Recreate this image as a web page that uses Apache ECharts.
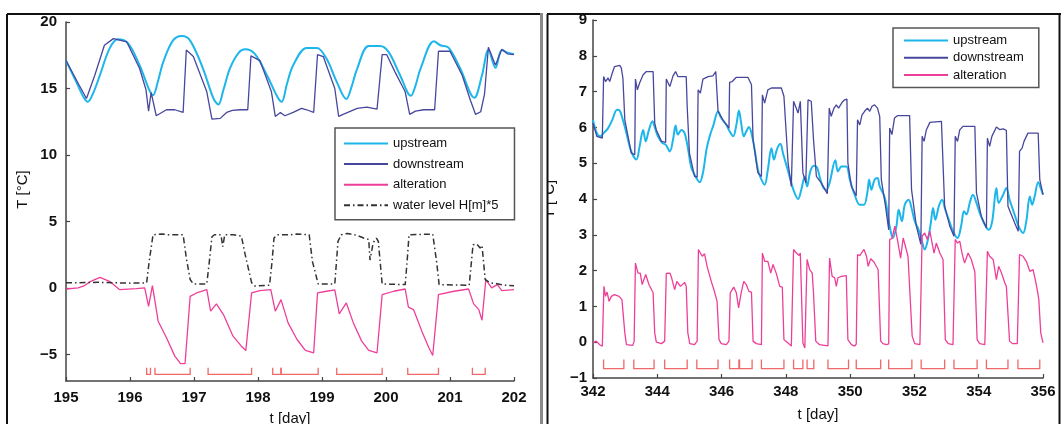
<!DOCTYPE html>
<html>
<head>
<meta charset="utf-8">
<script src="https://cdn.jsdelivr.net/npm/echarts@6/dist/echarts.min.js"></script>
<style>
  html, body { margin: 0; padding: 0; background: #fff; }
  #chart { width: 1061px; height: 424px; }
</style>
</head>
<body>
<div id="chart"></div>
<script>
// ---------- tick labels ----------
const leftXTicks  = [195, 196, 197, 198, 199, 200, 201, 202];
const leftYTicks  = [-5, 0, 5, 10, 15, 20];
const rightXTicks = [342, 344, 346, 348, 350, 352, 354, 356];
const rightYTicks = [-1, 0, 1, 2, 3, 4, 5, 6, 7, 8, 9];

// ---------- left panel, days 195-202: [t (day), T (°C)] ----------
const leftUpstream = [
  [195.00,17.1],[195.16,15.5],[195.28,14.3],[195.34,14.0],[195.42,14.6],[195.53,16.0],
  [195.68,18.0],[195.81,18.7],[195.97,18.4],[196.15,16.75],[196.30,14.9],[196.36,14.5],
  [196.44,15.6],[196.52,17.0],[196.67,18.6],[196.81,18.95],[196.94,18.6],[197.14,16.5],
  [197.30,14.3],[197.38,13.8],[197.46,14.9],[197.56,16.5],[197.70,17.7],[197.80,17.95],
  [197.95,17.6],[198.14,16.0],[198.30,14.4],[198.37,14.0],[198.45,15.3],[198.55,16.75],
  [198.76,18.05],[198.92,18.05],[199.07,17.25],[199.23,15.5],[199.38,14.2],[199.46,15.1],
  [199.55,16.5],[199.73,18.2],[199.91,18.2],[200.04,17.75],[200.22,16.0],[200.39,14.45],
  [200.46,15.2],[200.54,16.5],[200.75,18.55],[200.85,18.25],[200.98,18.05],[201.16,16.5],
  [201.38,14.3],[201.50,16.0],[201.60,17.9],[201.71,16.55],[201.81,17.9],[201.90,17.7],
  [202.00,17.6]
];
const leftDownstream = [
  [195.00,17.1],[195.20,15.3],[195.32,14.25],[195.45,16.0],[195.60,18.25],[195.74,18.75],
  [195.95,18.5],[196.15,16.5],[196.25,14.9],[196.29,13.3],[196.33,14.7],[196.41,12.95],
  [196.57,13.4],[196.70,13.4],[196.83,13.2],[196.88,17.9],[196.99,17.4],[197.20,14.75],
  [197.28,12.7],[197.41,12.75],[197.51,13.2],[197.60,13.35],[197.72,13.4],[197.84,13.4],
  [197.89,17.45],[198.03,17.1],[198.21,14.75],[198.27,12.9],[198.35,13.2],[198.42,12.95],
  [198.55,13.2],[198.68,13.5],[198.76,13.4],[198.87,13.2],[198.93,17.55],[199.02,17.4],
  [199.20,15.0],[199.26,12.9],[199.33,13.05],[199.55,13.5],[199.70,13.6],[199.86,13.45],
  [199.94,17.55],[200.01,17.55],[200.14,16.25],[200.30,14.75],[200.37,13.05],[200.46,13.3],
  [200.59,13.4],[200.76,13.4],[200.82,17.8],[201.00,17.8],[201.19,16.0],[201.32,14.1],
  [201.40,13.05],[201.48,13.25],[201.54,14.6],[201.60,18.1],[201.71,16.75],[201.81,17.95],
  [201.90,17.6],[202.00,17.55]
];
const leftAlteration = [
  [195.00,-0.08],[195.19,0.0],[195.28,0.15],[195.37,0.45],[195.53,0.8],[195.68,0.5],
  [195.84,-0.13],[196.10,-0.05],[196.23,0.0],[196.29,-1.38],[196.35,0.17],[196.39,-1.0],
  [196.44,-2.5],[196.57,-3.75],[196.70,-5.13],[196.79,-5.7],[196.86,-5.7],[196.94,-0.63],
  [197.04,-0.38],[197.20,-0.13],[197.26,-1.75],[197.35,-1.2],[197.46,-2.0],[197.61,-3.63],
  [197.74,-4.38],[197.81,-4.7],[197.90,-0.38],[198.03,-0.2],[198.20,-0.13],[198.27,-1.75],
  [198.36,-0.88],[198.47,-2.63],[198.61,-3.88],[198.74,-4.7],[198.87,-4.88],[198.93,-0.38],
  [199.07,-0.25],[199.20,-0.15],[199.27,-1.95],[199.38,-1.13],[199.49,-2.63],[199.62,-4.0],
  [199.73,-4.7],[199.86,-4.88],[199.94,-0.5],[200.12,-0.25],[200.30,-0.08],[200.35,-1.45],
  [200.43,-1.63],[200.56,-3.25],[200.67,-4.5],[200.73,-5.08],[200.82,-0.5],[201.06,-0.25],
  [201.29,-0.08],[201.37,-1.2],[201.45,-1.63],[201.50,-2.43],[201.56,0.63],[201.65,0.0],
  [201.74,0.25],[201.81,-0.2],[202.00,-0.13]
];
const leftWaterLevel = [
  [195.00,0.38],[195.50,0.42],[196.00,0.36],[196.26,0.38],[196.30,2.0],[196.36,4.0],
  [196.50,4.05],[196.60,4.0],[196.83,4.0],[196.88,2.25],[196.94,0.63],[196.99,0.3],
  [197.20,0.3],[197.24,2.0],[197.28,3.85],[197.32,4.0],[197.42,4.0],[197.45,3.1],
  [197.48,4.0],[197.62,4.0],[197.74,3.9],[197.80,2.5],[197.90,0.4],[197.95,0.15],
  [198.18,0.2],[198.22,2.0],[198.25,3.75],[198.30,4.0],[198.50,4.0],[198.60,4.05],
  [198.80,4.0],[198.85,2.0],[198.94,0.3],[199.20,0.3],[199.25,3.5],[199.30,4.0],
  [199.40,4.1],[199.55,3.95],[199.65,3.75],[199.73,3.65],[199.75,2.1],[199.80,3.4],
  [199.85,3.75],[199.88,3.5],[199.94,0.3],[200.30,0.25],[200.33,2.0],[200.36,4.0],
  [200.73,4.05],[200.79,2.0],[200.83,0.25],[201.30,0.2],[201.36,3.25],[201.42,3.3],
  [201.47,3.0],[201.50,3.2],[201.55,0.63],[201.62,0.4],[201.75,0.3],[201.85,0.2],
  [202.00,0.17]
];
// periods marked under the curves: [start, end]
const leftPeriods = [
  [196.26,196.32],[196.39,196.94],[197.22,197.90],[198.23,198.36],[198.36,198.94],
  [199.23,199.94],[200.34,200.82],[201.35,201.55]
];

// ---------- right panel, days 342-356 ----------
const rightUpstream = [
  [342.00,6.21],[342.12,5.84],[342.23,5.75],[342.33,5.84],[342.47,5.98],[342.60,6.21],
  [342.75,6.49],[342.83,6.47],[342.93,6.21],[343.04,5.84],[343.19,5.33],[343.35,5.1],
  [343.45,5.47],[343.56,5.93],[343.64,5.61],[343.74,5.93],[343.85,6.17],[343.92,6.01],
  [344.02,5.75],[344.16,5.56],[344.26,5.52],[344.39,5.33],[344.49,5.66],[344.57,6.05],
  [344.64,5.8],[344.75,5.93],[344.85,5.84],[344.96,5.38],[345.06,4.87],[345.19,4.63],
  [345.32,4.47],[345.42,4.73],[345.53,5.38],[345.63,5.75],[345.75,6.07],[345.89,6.45],
  [345.99,6.26],[346.15,6.07],[346.25,5.89],[346.36,5.75],[346.46,6.07],[346.54,6.47],
  [346.61,6.12],[346.69,5.75],[346.77,5.89],[346.85,6.01],[346.93,5.84],[347.03,5.38],
  [347.13,4.82],[347.24,4.54],[347.34,4.4],[347.44,4.82],[347.55,5.42],[347.63,5.1],
  [347.72,5.38],[347.83,5.54],[347.91,5.28],[348.04,4.87],[348.17,4.45],[348.27,4.17],
  [348.38,4.0],[348.48,4.26],[348.59,4.63],[348.66,4.35],[348.76,4.77],[348.87,4.93],
  [348.97,4.88],[349.05,4.62],[349.15,4.35],[349.26,4.25],[349.36,4.45],[349.54,5.08],
  [349.62,4.77],[349.73,4.91],[349.88,4.91],[349.99,4.54],[350.14,4.12],[350.30,3.84],
  [350.43,3.84],[350.54,4.21],[350.59,4.54],[350.66,4.26],[350.76,4.54],[350.85,4.59],
  [350.92,4.35],[351.08,4.03],[351.23,3.24],[351.33,2.91],[351.44,3.24],[351.51,3.7],
  [351.61,3.38],[351.70,3.84],[351.82,3.98],[351.91,3.75],[352.01,3.38],[352.13,3.14],
  [352.22,2.87],[352.32,2.59],[352.42,2.87],[352.51,3.33],[352.58,3.75],[352.65,3.42],
  [352.76,3.8],[352.86,3.98],[352.96,3.7],[353.07,3.42],[353.20,3.1],[353.34,2.91],
  [353.46,3.28],[353.54,3.66],[353.62,3.57],[353.72,3.89],[353.82,4.12],[353.93,3.89],
  [354.03,3.61],[354.19,3.28],[354.31,3.14],[354.42,3.38],[354.55,4.31],[354.62,3.89],
  [354.76,4.12],[354.86,4.31],[354.96,3.98],[355.10,3.61],[355.24,3.24],[355.38,3.05],
  [355.48,3.38],[355.59,4.07],[355.66,3.84],[355.74,4.07],[355.85,4.47],[355.93,4.3],
  [356.00,4.12]
];
const rightDownstream = [
  [342.00,6.12],[342.12,5.75],[342.29,5.7],[342.33,7.42],[342.39,7.28],[342.47,7.38],
  [342.52,7.28],[342.60,7.52],[342.67,7.7],[342.83,7.73],[342.88,7.66],[342.93,7.38],
  [342.99,6.21],[343.09,5.75],[343.19,5.28],[343.30,5.24],[343.32,7.35],[343.38,7.05],
  [343.45,7.24],[343.56,7.47],[343.66,7.56],[343.87,7.56],[343.92,6.12],[343.97,5.93],
  [344.13,5.61],[344.26,5.58],[344.28,7.35],[344.39,7.14],[344.49,7.44],[344.57,7.56],
  [344.64,7.42],[344.90,7.42],[344.93,6.59],[345.00,5.28],[345.16,4.63],[345.24,4.61],
  [345.27,7.05],[345.34,6.96],[345.42,7.35],[345.58,7.42],[345.73,7.44],[345.82,7.56],
  [345.89,6.45],[346.04,6.21],[346.23,5.98],[346.25,7.26],[346.33,7.28],[346.46,7.4],
  [346.82,7.4],[346.93,7.19],[346.98,5.66],[347.13,4.73],[347.24,4.63],[347.27,6.91],
  [347.34,6.68],[347.44,7.05],[347.55,7.1],[347.86,7.1],[347.94,6.87],[348.07,5.0],
  [348.17,4.35],[348.24,6.73],[348.30,6.68],[348.38,6.4],[348.45,6.73],[348.53,4.73],
  [348.62,4.45],[348.69,6.77],[348.79,6.73],[348.86,5.66],[348.95,4.63],[349.10,4.45],
  [349.29,4.15],[349.35,6.54],[349.41,6.31],[349.50,6.54],[349.57,6.63],[349.64,6.54],
  [349.75,6.7],[349.83,6.77],[349.90,6.79],[349.93,5.0],[350.04,4.35],[350.19,4.09],
  [350.23,6.21],[350.30,6.07],[350.37,6.35],[350.45,6.45],[350.54,6.54],[350.61,6.45],
  [350.68,6.59],[350.76,6.63],[350.85,6.54],[350.92,6.31],[350.97,4.54],[351.10,3.8],
  [351.20,3.14],[351.23,5.98],[351.30,5.8],[351.38,6.26],[351.48,6.33],[351.85,6.33],
  [351.91,4.26],[352.06,3.24],[352.20,2.73],[352.24,5.75],[352.30,5.61],[352.37,5.93],
  [352.48,6.14],[352.84,6.17],[352.94,3.8],[353.10,3.24],[353.23,2.96],[353.27,5.75],
  [353.34,5.61],[353.41,5.93],[353.51,6.03],[353.88,6.03],[353.93,4.17],[354.08,3.52],
  [354.24,3.19],[354.27,5.7],[354.34,5.47],[354.41,5.75],[354.55,6.01],[354.65,5.94],
  [354.76,5.96],[354.86,5.92],[354.91,3.8],[355.12,3.33],[355.23,3.1],[355.27,5.33],
  [355.35,5.42],[355.41,5.61],[355.53,5.84],[355.85,5.84],[355.90,4.54],[356.00,4.12]
];
const rightAlteration = [
  [342.00,-0.02],[342.10,0.03],[342.21,-0.07],[342.29,-0.11],[342.34,1.56],[342.39,1.28],
  [342.44,1.4],[342.50,1.14],[342.57,1.28],[342.67,1.33],[342.81,1.28],[342.85,1.33],
  [342.90,1.19],[342.93,1.23],[342.99,0.26],[343.04,-0.07],[343.24,-0.09],[343.28,0.03],
  [343.32,2.21],[343.40,1.93],[343.47,1.93],[343.53,1.61],[343.64,1.89],[343.74,1.61],
  [343.87,1.38],[343.92,0.26],[343.97,0.0],[344.13,-0.04],[344.23,0.03],[344.28,1.92],
  [344.39,1.93],[344.44,1.82],[344.54,1.47],[344.61,1.7],[344.72,1.56],[344.85,1.67],
  [344.90,1.56],[344.95,0.26],[345.01,-0.04],[345.16,-0.07],[345.24,0.03],[345.28,2.59],
  [345.34,2.49],[345.40,2.4],[345.47,2.47],[345.55,2.12],[345.68,1.7],[345.79,1.38],
  [345.86,1.14],[345.92,0.07],[345.99,-0.04],[346.15,-0.07],[346.23,0.03],[346.27,1.38],
  [346.38,1.54],[346.46,1.38],[346.53,0.96],[346.61,1.38],[346.69,1.7],[346.77,1.61],
  [346.85,1.42],[346.93,1.4],[346.98,0.03],[347.08,-0.04],[347.24,-0.07],[347.27,2.49],
  [347.34,2.26],[347.44,2.26],[347.53,1.93],[347.60,2.17],[347.70,1.93],[347.81,1.56],
  [347.89,1.54],[347.94,0.07],[348.07,-0.02],[348.17,-0.11],[348.24,2.59],[348.33,2.49],
  [348.41,2.42],[348.45,2.49],[348.53,-0.02],[348.59,-0.16],[348.66,2.31],[348.74,2.03],
  [348.82,1.93],[348.86,1.38],[348.93,0.03],[349.05,-0.07],[349.31,-0.1],[349.36,2.35],
  [349.44,1.84],[349.52,1.8],[349.57,1.56],[349.62,1.8],[349.73,1.84],[349.88,1.86],
  [349.93,0.07],[350.04,-0.07],[350.14,-0.11],[350.19,-0.05],[350.23,2.45],[350.30,2.42],
  [350.43,2.59],[350.51,2.4],[350.56,2.12],[350.64,2.33],[350.74,2.24],[350.87,2.03],
  [350.95,0.03],[351.02,-0.04],[351.13,-0.07],[351.20,-0.05],[351.23,2.87],[351.30,2.89],
  [351.39,3.24],[351.47,2.87],[351.57,2.35],[351.65,2.91],[351.72,2.68],[351.80,2.4],
  [351.85,2.35],[351.93,0.17],[352.01,-0.04],[352.17,-0.07],[352.22,-0.03],[352.24,2.96],
  [352.32,3.05],[352.40,2.87],[352.48,3.1],[352.55,2.77],[352.61,2.49],[352.68,2.77],
  [352.79,2.49],[352.89,2.31],[352.96,0.07],[353.05,-0.04],[353.20,-0.07],[353.25,-0.03],
  [353.27,2.87],[353.34,2.77],[353.41,2.82],[353.48,2.49],[353.56,2.21],[353.67,2.49],
  [353.77,2.31],[353.88,1.96],[353.95,0.07],[354.03,-0.04],[354.19,-0.07],[354.24,-0.03],
  [354.27,2.54],[354.34,2.4],[354.45,2.31],[354.55,1.75],[354.62,2.12],[354.71,1.93],
  [354.81,1.66],[354.86,1.56],[354.96,0.03],[355.05,-0.04],[355.20,-0.04],[355.24,-0.02],
  [355.27,2.45],[355.38,2.4],[355.48,2.26],[355.59,1.98],[355.69,2.03],[355.76,1.75],
  [355.83,1.42],[355.87,1.19],[355.93,0.26],[356.00,-0.02]
];
const rightPeriods = [
  [342.33,342.96],[343.27,343.90],[344.23,344.93],[345.23,345.89],[346.25,346.54],
  [346.56,346.95],[347.24,347.94],[348.24,348.53],[348.66,348.87],[349.31,349.95],
  [350.19,350.95],[351.20,351.92],[352.21,352.94],[353.23,353.95],[354.24,354.91],
  [355.22,355.90]
];

// ---------- styling ----------
const FONT = '"Liberation Sans", Arial, Helvetica, sans-serif';
const C_UP = '#1db6ea';
const C_DOWN = '#47479e';
const C_ALT = '#ee3f98';
const C_WATER = '#333333';
const C_PERIOD = '#f06868';
const AXIS_COLOR = '#444';

// tick numbers use a true minus sign
const minusFmt = v => String(v).replace('-', '\u2212');

function lineSeries(name, data, idx, color, width, extra) {
  return Object.assign({
    name, type: 'line', data, xAxisIndex: idx, yAxisIndex: idx,
    symbol: 'none', showSymbol: false, animation: false,
    lineStyle: { color, width },
    itemStyle: { color }
  }, extra || {});
}

// bracket marks: down-stroke, bottom bar, up-stroke for each period
function periodSeries(data, idx, yTop, yBottom) {
  return {
    type: 'custom', xAxisIndex: idx, yAxisIndex: idx, data,
    encode: { x: [0, 1] }, silent: true, animation: false, z: 3,
    renderItem(params, api) {
      const p1 = api.coord([api.value(0), yTop]);
      const p2 = api.coord([api.value(0), yBottom]);
      const p3 = api.coord([api.value(1), yBottom]);
      const p4 = api.coord([api.value(1), yTop]);
      return {
        type: 'polyline',
        shape: { points: [p1, p2, p3, p4] },
        style: { stroke: C_PERIOD, lineWidth: 1.3, fill: null }
      };
    }
  };
}

const tickLabelStyle = { fontFamily: FONT, fontSize: 15, color: '#111', fontWeight: 'bold' };

function xAxisCfg(idx, min, max, ticks, labelMargin, nameGap) {
  return {
    type: 'value', gridIndex: idx, min, max,
    name: 't [day]', nameLocation: 'middle', nameGap,
    nameTextStyle: { fontFamily: FONT, fontSize: 15, color: '#111' },
    axisLine: { show: true, onZero: false, lineStyle: { color: AXIS_COLOR, width: 1.5 } },
    axisTick: { show: true, inside: true, length: 4, customValues: ticks, lineStyle: { color: AXIS_COLOR, width: 1.2 } },
    axisLabel: Object.assign({ customValues: ticks, margin: labelMargin, formatter: minusFmt }, tickLabelStyle),
    splitLine: { show: false }
  };
}
function yAxisCfg(idx, min, max, ticks, labelMargin, nameGap, namePad) {
  return {
    type: 'value', gridIndex: idx, min, max,
    name: 'T [°C]', nameLocation: 'middle', nameGap, nameRotate: 90,
    nameTextStyle: { fontFamily: FONT, fontSize: 15, color: '#111', padding: namePad },
    axisLine: { show: true, onZero: false, lineStyle: { color: AXIS_COLOR, width: 1.5 } },
    axisTick: { show: true, inside: true, length: 4, customValues: ticks, lineStyle: { color: AXIS_COLOR, width: 1.2 } },
    axisLabel: Object.assign({ customValues: ticks, margin: labelMargin, formatter: minusFmt }, tickLabelStyle),
    splitLine: { show: false }
  };
}

// legend keys are plain line samples (no marker dot)
const legendCommon = {
  orient: 'vertical', itemWidth: 44, itemHeight: 14,
  itemStyle: { opacity: 0, borderWidth: 0 },
  borderColor: '#555', borderWidth: 1.5, backgroundColor: '#fff',
  textStyle: { fontFamily: FONT, fontSize: 13, color: '#111' },
  selectedMode: false
};

const chart = echarts.init(document.getElementById('chart'), null, { renderer: 'canvas' });

chart.setOption({
  animation: false,
  backgroundColor: '#fff',
  grid: [
    { left: 66, top: 22, width: 448, height: 359, containLabel: false, outerBoundsMode: 'none' },
    { left: 593, top: 20, width: 450, height: 358, containLabel: false, outerBoundsMode: 'none' }
  ],
  xAxis: [
    xAxisCfg(0, 195, 202, leftXTicks, 9, 30),
    xAxisCfg(1, 342, 356, rightXTicks, 6, 29)
  ],
  yAxis: [
    yAxisCfg(0, -7, 20, leftYTicks, 9, 36, [0, 0, 0, 24]),
    yAxisCfg(1, -1, 9, rightYTicks, 6, 36, 0)
  ],
  legend: [
    Object.assign({}, legendCommon, {
      left: 335, top: 128, padding: [9, 16, 8, 8], itemGap: 7.6,
      data: ['upstream', 'downstream', 'alteration', 'water level H[m]*5']
    }),
    Object.assign({}, legendCommon, {
      left: 893, top: 28, padding: [6, 15, 6, 10], itemGap: 4.3,
      data: ['upstream', 'downstream', 'alteration']
    })
  ],
  graphic: [
    // panel frames
    { type: 'line', z: 100, shape: { x1: 7, y1: 14, x2: 541, y2: 14 }, style: { stroke: '#111', lineWidth: 2 } },
    { type: 'line', z: 100, shape: { x1: 7, y1: 14, x2: 7, y2: 424 }, style: { stroke: '#111', lineWidth: 2 } },
    { type: 'line', z: 100, shape: { x1: 541.5, y1: 13, x2: 541.5, y2: 424 }, style: { stroke: '#8a8a8a', lineWidth: 3 } },
    { type: 'rect', z: 99, shape: { x: 543, y: 120, width: 4, height: 160 }, style: { fill: '#fff' } },
    { type: 'line', z: 100, shape: { x1: 547, y1: 14, x2: 1061, y2: 14 }, style: { stroke: '#111', lineWidth: 2 } },
    { type: 'line', z: 100, shape: { x1: 547.5, y1: 14, x2: 547.5, y2: 424 }, style: { stroke: '#111', lineWidth: 2 } },
    { type: 'line', z: 100, shape: { x1: 1059.5, y1: 14, x2: 1059.5, y2: 424 }, style: { stroke: '#111', lineWidth: 2 } }
  ],
  series: [
    lineSeries('upstream', leftUpstream, 0, C_UP, 2, { smooth: 0.35, z: 2 }),
    lineSeries('downstream', leftDownstream, 0, C_DOWN, 1.3, { z: 3 }),
    lineSeries('alteration', leftAlteration, 0, C_ALT, 1.3, { z: 4 }),
    lineSeries('water level H[m]*5', leftWaterLevel, 0, C_WATER, 1.5,
      { z: 5, lineStyle: { color: C_WATER, width: 1.5, type: [6, 3, 1.5, 3] } }),
    periodSeries(leftPeriods, 0, -6.0, -6.5),

    lineSeries('upstream', rightUpstream, 1, C_UP, 2, { smooth: 0.35, z: 2 }),
    lineSeries('downstream', rightDownstream, 1, C_DOWN, 1.3, { z: 3 }),
    lineSeries('alteration', rightAlteration, 1, C_ALT, 1.3, { z: 4 }),
    periodSeries(rightPeriods, 1, -0.48, -0.74)
  ]
});
</script>
</body>
</html>
